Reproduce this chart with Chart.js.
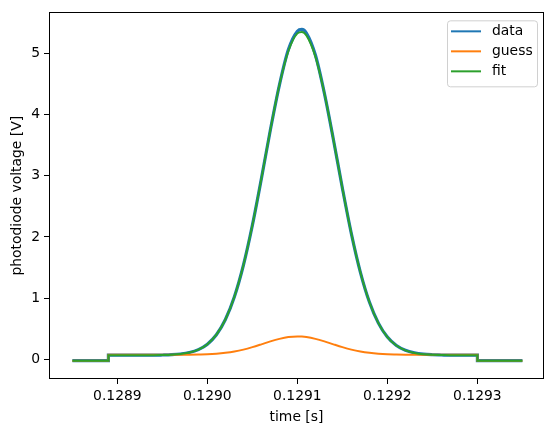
<!DOCTYPE html>
<html>
<head>
<meta charset="utf-8">
<script src="https://cdn.jsdelivr.net/npm/chart.js@4"></script>
<style>
  html, body { margin: 0; padding: 0; background: #fff; }
  canvas { display: block; }
</style>
</head>
<body>
<canvas id="chart" width="554" height="432"></canvas>
<script>
// sample times [s]; the repeated ones are the trigger steps
const times = [
  0.12885, 0.12889, 0.12889,
  0.12890, 0.12891, 0.12892, 0.12893, 0.12894, 0.12895, 0.12896, 0.12897, 0.12898, 0.12899,
  0.12900, 0.12901, 0.12902, 0.12903, 0.12904, 0.12905, 0.12906, 0.12907, 0.12908, 0.12909,
  0.12910, 0.129105, 0.12911, 0.12912, 0.12913, 0.12914, 0.12915, 0.12916, 0.12917, 0.12918, 0.12919,
  0.12920, 0.12921, 0.12922, 0.12923, 0.12924, 0.12925, 0.12926, 0.12927, 0.12928, 0.12929,
  0.12930, 0.12930, 0.12935
];

const dataValues = [
  -0.02, -0.02, 0.07,
  0.07, 0.07, 0.07, 0.07, 0.07, 0.073, 0.078, 0.089, 0.113, 0.161,
  0.250, 0.404, 0.652, 1.024, 1.538, 2.193, 2.953, 3.750, 4.480, 5.060,
  5.360, 5.390, 5.330, 4.970, 4.345, 3.592, 2.796, 2.051, 1.423, 0.938, 0.593,
  0.366, 0.228, 0.149, 0.107, 0.086, 0.077, 0.073, 0.07, 0.07, 0.07,
  0.07, -0.02, -0.02
];

const guessValues = [
  -0.02, -0.02, 0.075,
  0.075, 0.075, 0.075, 0.075, 0.075, 0.075, 0.075, 0.075, 0.077, 0.080,
  0.084, 0.093, 0.108, 0.130, 0.161, 0.201, 0.247, 0.295, 0.336, 0.365,
  0.375, 0.373, 0.365, 0.336, 0.295, 0.247, 0.201, 0.161, 0.130, 0.108, 0.093,
  0.084, 0.080, 0.077, 0.075, 0.075, 0.075, 0.075, 0.075, 0.075, 0.075,
  0.075, -0.02, -0.02
];

const fitValues = [
  -0.02, -0.02, 0.07,
  0.07, 0.07, 0.07, 0.07, 0.07, 0.073, 0.078, 0.089, 0.113, 0.161,
  0.250, 0.404, 0.652, 1.024, 1.538, 2.193, 2.953, 3.750, 4.480, 5.036,
  5.324, 5.348, 5.291, 4.944, 4.345, 3.592, 2.796, 2.051, 1.423, 0.938, 0.593,
  0.366, 0.228, 0.149, 0.107, 0.086, 0.077, 0.073, 0.07, 0.07, 0.07,
  0.07, -0.02, -0.02
];

const xTicks = [0.1289, 0.1290, 0.1291, 0.1292, 0.1293];
const yTicks = [0, 1, 2, 3, 4, 5];

const toPoints = vals => times.map((t, i) => ({ x: t, y: vals[i] }));

Chart.defaults.font.family = "'DejaVu Sans', sans-serif";
Chart.defaults.font.size = 13.9;
Chart.defaults.color = "#000";

// black box round the plot, like matplotlib spines
const frame = {
  id: "frame",
  afterDatasetsDraw(chart) {
    const { ctx, chartArea: a } = chart;
    ctx.save();
    ctx.strokeStyle = "#000";
    ctx.lineWidth = 1;
    ctx.strokeRect(Math.round(a.left) + 0.5, Math.round(a.top) + 0.5,
      Math.round(a.right - a.left) - 1, Math.round(a.bottom - a.top) - 1);
    ctx.restore();
  }
};

// legend box in the upper right corner
const cornerLegend = {
  id: "cornerLegend",
  afterDraw(chart) {
    const { ctx, chartArea: a } = chart;
    const sets = chart.data.datasets;
    const w = 90, h = 66;
    const x0 = a.right - 7 - w, y0 = a.top + 8;
    ctx.save();
    ctx.beginPath();
    ctx.roundRect(x0 + 0.5, y0 + 0.5, w, h, 3);
    ctx.fillStyle = "rgba(255,255,255,0.8)";
    ctx.fill();
    ctx.strokeStyle = "#d0d0d0";
    ctx.lineWidth = 1;
    ctx.stroke();
    ctx.font = "13.9px 'DejaVu Sans'";
    ctx.textBaseline = "middle";
    sets.forEach((ds, i) => {
      const y = y0 + 11 + i * 20;
      ctx.strokeStyle = ds.borderColor;
      ctx.lineWidth = 2;
      ctx.beginPath();
      ctx.moveTo(x0 + 4, y);
      ctx.lineTo(x0 + 34, y);
      ctx.stroke();
      ctx.fillStyle = "#000";
      ctx.fillText(ds.label, x0 + 45, y);
    });
    ctx.restore();
  }
};

new Chart(document.getElementById("chart"), {
  type: "line",
  data: {
    datasets: [
      { label: "data", data: toPoints(dataValues), borderColor: "#1f77b4", borderWidth: 3.2, order: 3 },
      { label: "guess", data: toPoints(guessValues), borderColor: "#ff7f0e", borderWidth: 2, order: 2 },
      { label: "fit", data: toPoints(fitValues), borderColor: "#2ca02c", borderWidth: 2, order: 1 }
    ]
  },
  options: {
    responsive: false,
    animation: false,
    events: [],
    layout: { padding: { top: 9, right: 10, left: 0, bottom: 0 } },
    elements: {
      point: { radius: 0 },
      line: { cubicInterpolationMode: "monotone", fill: false }
    },
    plugins: {
      legend: { display: false },
      tooltip: { enabled: false }
    },
    scales: {
      x: {
        type: "linear",
        min: 0.128824,
        max: 0.129374,
        afterBuildTicks: axis => { axis.ticks = xTicks.map(v => ({ value: v })); },
        afterFit: axis => { axis.height = 53; },
        ticks: { padding: 4, maxRotation: 0, callback: v => v.toFixed(4) },
        grid: { drawOnChartArea: false, drawTicks: true, tickLength: 5, tickColor: "#000" },
        border: { display: false },
        title: { display: true, text: "time [s]", padding: { top: 0, bottom: 6 } }
      },
      y: {
        min: -0.319,
        max: 5.667,
        afterBuildTicks: axis => { axis.ticks = yTicks.map(v => ({ value: v })); },
        afterFit: axis => { axis.width = 49; },
        ticks: { padding: 4, callback: v => String(v) },
        grid: { drawOnChartArea: false, drawTicks: true, tickLength: 5, tickColor: "#000" },
        border: { display: false },
        title: { display: true, text: "photodiode voltage [V]", padding: { top: 9, bottom: 0 } }
      }
    }
  },
  plugins: [frame, cornerLegend]
});
</script>
</body>
</html>
